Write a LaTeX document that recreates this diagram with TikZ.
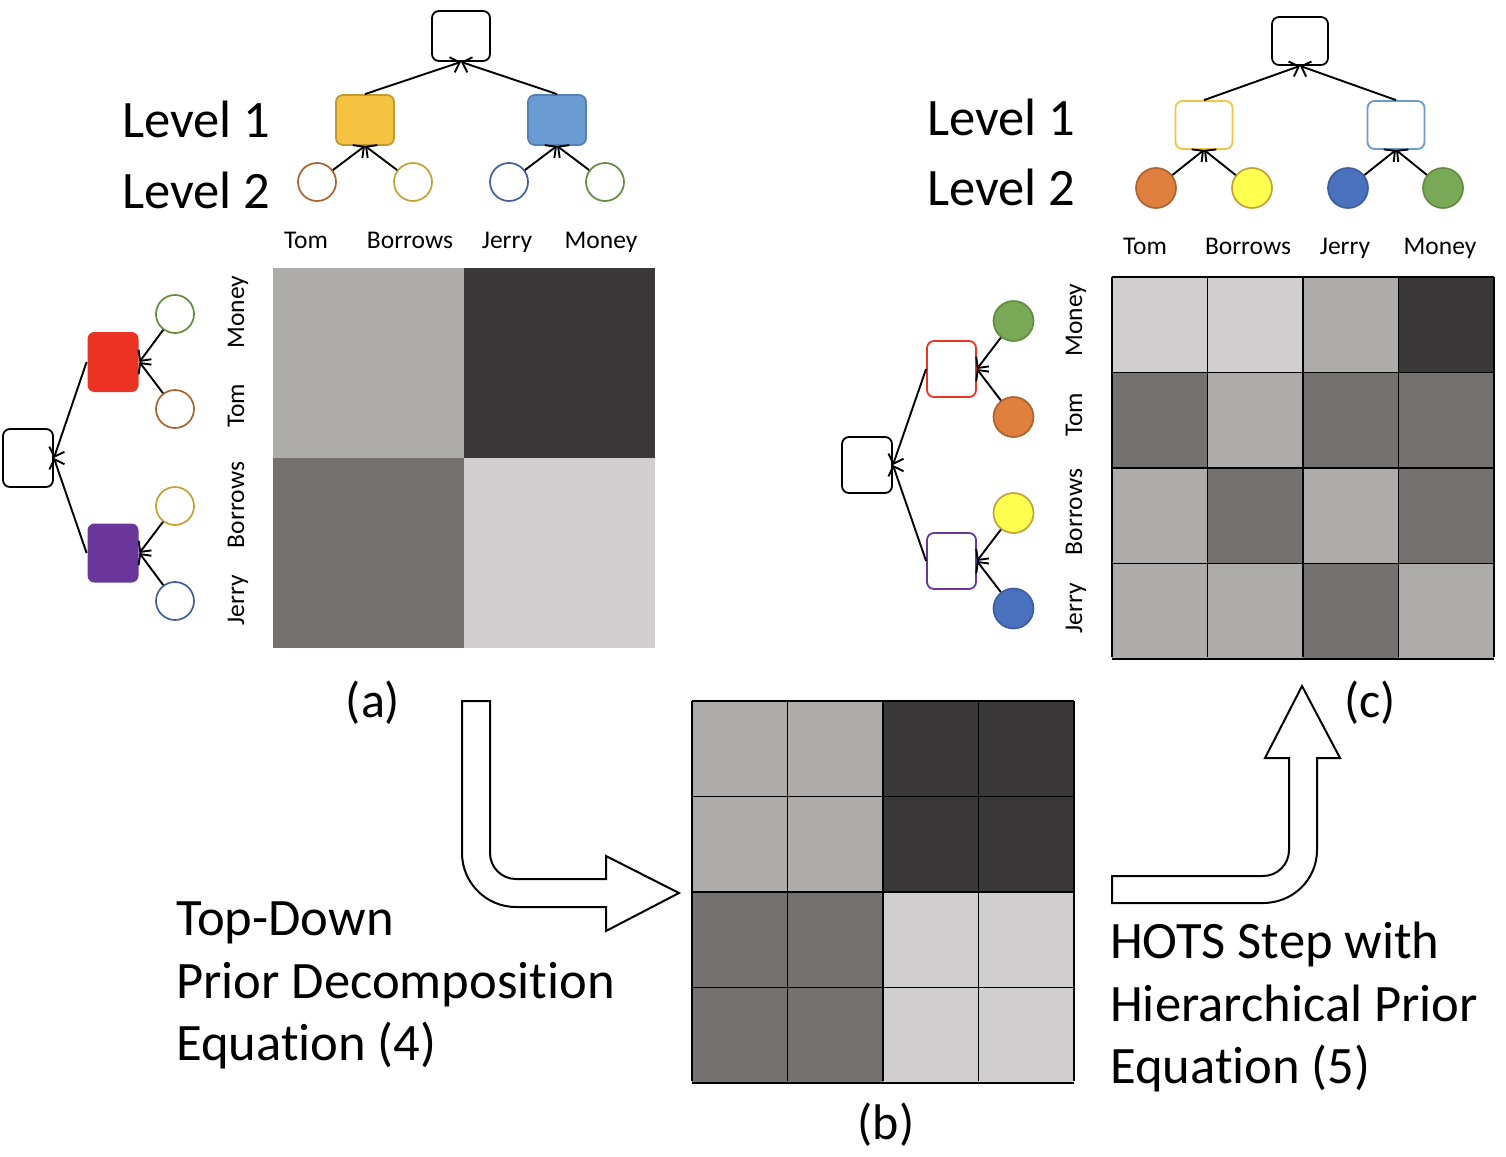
\documentclass[tikz,border=0pt]{standalone}
\usepackage{fontspec}
\setmainfont{Carlito}[Ligatures=CommonOff]
\usetikzlibrary{arrows.meta}
\definecolor{gA}{HTML}{ADACAB}
\definecolor{gB}{HTML}{3A3839}
\definecolor{gC}{HTML}{757170}
\definecolor{gD}{HTML}{D0CECF}
\definecolor{yelF}{HTML}{F5C242}
\definecolor{yelD}{HTML}{C29A30}
\definecolor{bluF}{HTML}{6A9BD2}
\definecolor{bluD}{HTML}{5580B5}
\definecolor{redF}{HTML}{EA3323}
\definecolor{purF}{HTML}{6A369A}
\definecolor{cTom}{HTML}{AA622E}
\definecolor{cBor}{HTML}{C4A035}
\definecolor{cJer}{HTML}{3F5E9E}
\definecolor{cMon}{HTML}{5F8C3F}
\definecolor{fTom}{HTML}{E0803F}
\definecolor{fBor}{HTML}{FFFF50}
\definecolor{fJer}{HTML}{4A71BE}
\definecolor{fMon}{HTML}{79A856}
\newcommand\fbig{\fontsize{52.6}{63}\selectfont}
\newcommand\fsml{\fontsize{25.5}{30}\selectfont}
\newcommand\fcap{\fontsize{50}{60}\selectfont}
\begin{document}
\begin{tikzpicture}[x=1pt,y=-1pt,
  hbox/.style={rectangle,rounded corners=7pt,line width=1.8pt,minimum width=58pt,minimum height=50pt,inner sep=0pt},
  vbox/.style={rectangle,rounded corners=7pt,line width=1.8pt,minimum width=50pt,minimum height=58pt,inner sep=0pt},
  circ/.style={circle,minimum size=38pt,inner sep=0pt,line width=1.7pt},
  fcirc/.style={circle,minimum size=40pt,inner sep=0pt,line width=1.7pt},
  arr/.style={-{Straight Barb[length=8pt,width=16pt]},line width=1.9pt},
  bigarrow/.style={draw=black,fill=white,line width=2pt,line join=miter},
  lbl/.style={font=\fbig,inner sep=0pt,anchor=base west},
  wrd/.style={font=\fsml,inner sep=0pt,anchor=base},
  rwrd/.style={font=\fsml,inner sep=0pt,anchor=base,rotate=90},
  subcap/.style={font=\fcap,inner sep=0pt}
]
\useasboundingbox (0,0) rectangle (1506,1156);
\fill[white] (0,0) rectangle (1506,1156);

% ---------------- matrix (a) ----------------
\fill[gA] (273,268) rectangle (464,458);
\fill[gB] (464,268) rectangle (655,458);
\fill[gC] (273,458) rectangle (464,648);
\fill[gD] (464,458) rectangle (655,648);

% ---------------- matrix (b) ----------------
\foreach \c [count=\i from 0] in {gA,gA,gB,gB, gA,gA,gB,gB, gC,gC,gD,gD, gC,gC,gD,gD}{
  \pgfmathtruncatemacro\rr{floor(\i/4)}
  \pgfmathtruncatemacro\cc{mod(\i,4)}
  \fill[\c] (692+\cc*95.5,701+\rr*95.5) rectangle ++(95.5,95.5);
}
\foreach \k in {0,...,4}{
  \draw[line width=1.8pt] (692+\k*95.5,701) -- (692+\k*95.5,1081);
  \draw[line width=1.8pt] (692,701+\k*95.5) -- (1074,701+\k*95.5);
}

% ---------------- matrix (c) ----------------
\foreach \c [count=\i from 0] in {gD,gD,gA,gB, gC,gA,gC,gC, gA,gC,gA,gC, gA,gA,gC,gA}{
  \pgfmathtruncatemacro\rr{floor(\i/4)}
  \pgfmathtruncatemacro\cc{mod(\i,4)}
  \fill[\c] (1112+\cc*95.5,277+\rr*95.5) rectangle ++(95.5,95.5);
}
\foreach \k in {0,...,4}{
  \draw[line width=1.8pt] (1112+\k*95.5,277) -- (1112+\k*95.5,657);
  \draw[line width=1.8pt] (1112,277+\k*95.5) -- (1494,277+\k*95.5);
}

% ---------------- tree (a) top ----------------
\node[hbox,draw=black] (tR) at (461,36) {};
\node[hbox,draw=yelD,fill=yelF] (tA) at (365,120) {};
\node[hbox,draw=bluD,fill=bluF] (tB) at (557,120) {};
\node[circ,draw=cTom] (ta1) at (317,182) {};
\node[circ,draw=cBor] (ta2) at (413,182) {};
\node[circ,draw=cJer] (ta3) at (509,182) {};
\node[circ,draw=cMon] (ta4) at (605,182) {};
\draw[arr] (ta1) -- (tA.south);
\draw[arr] (ta2) -- (tA.south);
\draw[arr] (ta3) -- (tB.south);
\draw[arr] (ta4) -- (tB.south);
\draw[arr] (tA.north) -- (tR.south);
\draw[arr] (tB.north) -- (tR.south);

\node[lbl] (aL1) at (122,137) {Level 1};
\node[lbl] (aL2) at (122,208) {Level 2};
\node[wrd] (aw1) at (306,248) {Tom};
\node[wrd] (aw2) at (410,248) {Borrows};
\node[wrd] (aw3) at (507,248) {Jerry};
\node[wrd] (aw4) at (601,248) {Money};

% ---------------- tree (a) left ----------------
\node[vbox,draw=black] (lR) at (28,458) {};
\node[vbox,fill=redF,minimum width=51pt,minimum height=60pt] (lA) at (113,362) {};
\node[vbox,fill=purF,minimum width=51pt,minimum height=59pt] (lB) at (113,553) {};
\node[circ,draw=cMon] (la1) at (175,314) {};
\node[circ,draw=cTom] (la2) at (175,409) {};
\node[circ,draw=cBor] (la3) at (175,506) {};
\node[circ,draw=cJer] (la4) at (175,601) {};
\draw[arr] (la1) -- (lA.east);
\draw[arr] (la2) -- (lA.east);
\draw[arr] (la3) -- (lB.east);
\draw[arr] (la4) -- (lB.east);
\draw[arr] (lA.west) -- (lR.east);
\draw[arr] (lB.west) -- (lR.east);

\node[rwrd] (ar1) at (244,312) {Money};
\node[rwrd] (ar2) at (244,406) {Tom};
\node[rwrd] (ar3) at (244,505) {Borrows};
\node[rwrd] (ar4) at (244,600) {Jerry};

\node[subcap] (capa) at (373,703) {(a)};

% ---------------- tree (c) top ----------------
\node[hbox,draw=black,minimum width=56pt,minimum height=48pt] (cR) at (1300,41) {};
\node[hbox,draw=yelF,minimum width=57pt,minimum height=48pt] (cA) at (1204,125) {};
\node[hbox,draw=bluF,minimum width=57pt,minimum height=48pt] (cB) at (1396,125) {};
\node[fcirc,draw=cTom,fill=fTom] (ca1) at (1156,188) {};
\node[fcirc,draw=cBor,fill=fBor] (ca2) at (1252,188) {};
\node[fcirc,draw=cJer,fill=fJer] (ca3) at (1348,188) {};
\node[fcirc,draw=cMon,fill=fMon] (ca4) at (1443,188) {};
\draw[arr] (ca1) -- (cA.south);
\draw[arr] (ca2) -- (cA.south);
\draw[arr] (ca3) -- (cB.south);
\draw[arr] (ca4) -- (cB.south);
\draw[arr] (cA.north) -- (cR.south);
\draw[arr] (cB.north) -- (cR.south);

\node[lbl] (cL1) at (927,135) {Level 1};
\node[lbl] (cL2) at (927,205) {Level 2};
\node[wrd] (cw1) at (1145,254) {Tom};
\node[wrd] (cw2) at (1248,254) {Borrows};
\node[wrd] (cw3) at (1345,254) {Jerry};
\node[wrd] (cw4) at (1440,254) {Money};

% ---------------- tree (c) left ----------------
\node[vbox,draw=black,minimum height=56pt] (clR) at (867,465) {};
\node[vbox,draw=redF,minimum width=49pt,minimum height=56pt] (clA) at (951.5,369) {};
\node[vbox,draw=purF,minimum width=49pt,minimum height=56pt] (clB) at (951.5,561) {};
\node[fcirc,draw=cMon,fill=fMon] (cl1) at (1013.5,321) {};
\node[fcirc,draw=cTom,fill=fTom] (cl2) at (1013.5,417) {};
\node[fcirc,draw=cBor,fill=fBor] (cl3) at (1013.5,513) {};
\node[fcirc,draw=cJer,fill=fJer] (cl4) at (1013.5,608.5) {};
\draw[arr] (cl1) -- (clA.east);
\draw[arr] (cl2) -- (clA.east);
\draw[arr] (cl3) -- (clB.east);
\draw[arr] (cl4) -- (clB.east);
\draw[arr] (clA.west) -- (clR.east);
\draw[arr] (clB.west) -- (clR.east);

\node[rwrd] (cr1) at (1082,320) {Money};
\node[rwrd] (cr2) at (1082,415) {Tom};
\node[rwrd] (cr3) at (1082,512) {Borrows};
\node[rwrd] (cr4) at (1082,608) {Jerry};

\node[subcap] (capc) at (1370,703) {(c)};
\node[subcap] (capb) at (886,1125) {(b)};

% ---------------- big arrows ----------------
\draw[bigarrow] (462,701) -- (490,701) -- (490,853)
  .. controls (490,867.4) and (501.6,879) .. (516,879)
  -- (606,879) -- (606,856) -- (679,893) -- (606,931) -- (606,907) -- (516,907)
  .. controls (486.2,907) and (462,882.8) .. (462,853) -- cycle;

\draw[bigarrow] (1112,876) -- (1263,876)
  .. controls (1277.4,876) and (1289,864.4) .. (1289,850)
  -- (1289,758) -- (1265,758) -- (1302,686) -- (1340,758) -- (1317,758) -- (1317,850)
  .. controls (1317,879.8) and (1292.8,903) .. (1263,903)
  -- (1112,903) -- cycle;

% ---------------- bottom texts ----------------
\node[lbl] (t1) at (176,935) {Top-Down};
\node[lbl] (t2) at (176,998) {Prior Decomposition};
\node[lbl] (t3) at (176,1060) {Equation (4)};
\node[lbl] (h1) at (1110,958) {HOTS Step with};
\node[lbl] (h2) at (1110,1021) {Hierarchical Prior};
\node[lbl] (h3) at (1110,1083) {Equation (5)};
\end{tikzpicture}
\end{document}
